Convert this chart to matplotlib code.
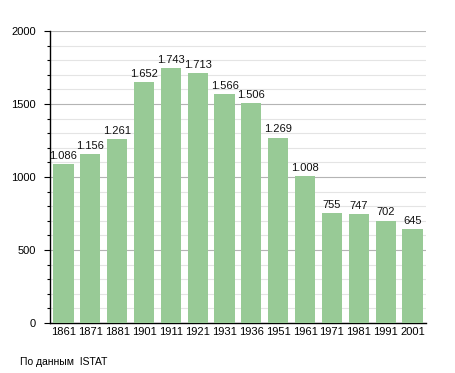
import numpy as np
import matplotlib.pyplot as plt
from matplotlib.ticker import MultipleLocator

plt.rcParams['font.family'] = ['Liberation Sans', 'DejaVu Sans']

years = ['1861', '1871', '1881', '1901', '1911', '1921', '1931', '1936',
         '1951', '1961', '1971', '1981', '1991', '2001']
population = [1086, 1156, 1261, 1652, 1743, 1713, 1566, 1506,
              1269, 1008, 755, 747, 702, 645]

fig = plt.figure(figsize=(4.55, 3.73), dpi=100)
ax = fig.add_axes([0.11, 0.134, 0.826, 0.783])

x = np.arange(len(years))
ax.bar(x, population, width=0.75, color='#98ca96', zorder=3)
for xi, v in zip(x, population):
    lab = '{:,}'.format(v).replace(',', '.')
    ax.text(xi, v + 22, lab, ha='center', va='bottom', fontsize=8, color='#111111', zorder=4)

ax.set_xlim(-0.5, len(years) - 0.5)
ax.set_ylim(0, 2000)
ax.set_xticks(x)
ax.set_xticklabels(years, fontsize=8)
ax.yaxis.set_major_locator(MultipleLocator(500))
ax.yaxis.set_minor_locator(MultipleLocator(100))
ax.tick_params(axis='y', labelsize=8, length=4, width=0.8, pad=6)
ax.tick_params(axis='y', which='minor', length=2.5, width=0.8)
ax.tick_params(axis='x', length=0, pad=3)
ax.grid(axis='y', which='major', color='#b4b4b4', linewidth=0.8, zorder=0)
ax.grid(axis='y', which='minor', color='#e4e4e4', linewidth=0.8, zorder=0)
for s in ['top', 'right']:
    ax.spines[s].set_visible(False)
ax.spines['left'].set_linewidth(1)
ax.spines['bottom'].set_linewidth(1)

fig.text(20 / 455, 1 - 362 / 373, 'По данным  ISTAT', fontsize=7.5, va='center', ha='left')

fig.savefig('out.png', dpi=100)
